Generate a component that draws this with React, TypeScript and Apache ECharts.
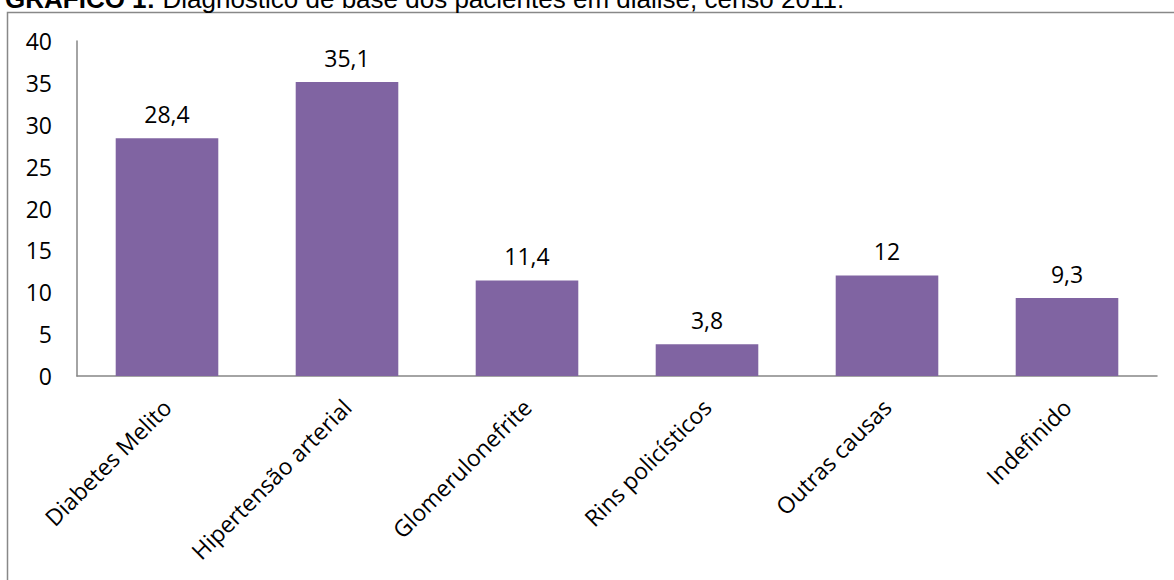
import React, { useEffect, useRef } from "react";
import * as echarts from "echarts";

const categories = [
  "Diabetes Melito",
  "Hipertensão arterial",
  "Glomerulonefrite",
  "Rins policísticos",
  "Outras causas",
  "Indefinido",
];
const values = [28.4, 35.1, 11.4, 3.8, 12, 9.3];
const titleBold = "GRÁFICO 1:";
const titleRest = " Diagnóstico de base dos pacientes em diálise, censo 2011.";

export default function App() {
  const ref = useRef<HTMLDivElement>(null);
  useEffect(() => {
    document.body.style.margin = "0";
    const chart = echarts.init(ref.current!, null, { renderer: "svg" });
    chart.setOption({
      animation: false,
      backgroundColor: "#ffffff",
      grid: { left: 77, right: 17, top: 41, bottom: 204, containLabel: false },
      graphic: [
        {
          type: "rect",
          shape: { x: 7.5, y: 12.5, width: 1200, height: 600 },
          style: { fill: "none", stroke: "#888888", lineWidth: 1.5 },
          z: 0,
        },
        {
          type: "text",
          x: 5,
          y: 12,
          style: {
            text: `{b|${titleBold}}{n|${titleRest}}`,
            verticalAlign: "bottom",
            rich: {
              b: { fontFamily: "Liberation Sans, Arial", fontWeight: "bold", fontSize: 26, fill: "#000" },
              n: { fontFamily: "Liberation Sans, Arial", fontSize: 26, fill: "#000" },
            },
          },
        },
      ],
      xAxis: {
        type: "category",
        data: categories,
        axisLine: { show: true, lineStyle: { color: "#868686", width: 1.5 } },
        axisTick: { show: false },
        axisLabel: {
          interval: 0,
          rotate: 45,
          margin: 27,
          fontFamily: "Open Sans",
          fontSize: 23,
          color: "#000",
        },
      },
      yAxis: {
        type: "value",
        min: 0,
        max: 40,
        interval: 5,
        axisLine: { show: true, lineStyle: { color: "#868686", width: 1.5 } },
        axisTick: { show: false },
        splitLine: { show: false },
        axisLabel: {
          margin: 25,
          fontFamily: "Open Sans",
          fontSize: 23,
          color: "#000",
        },
      },
      series: [
        {
          type: "bar",
          data: values,
          barCategoryGap: "43%",
          itemStyle: { color: "#8064A2" },
          label: {
            show: true,
            position: "top",
            distance: 13,
            fontFamily: "Open Sans",
            fontSize: 23,
            color: "#000",
            formatter: (p: any) => String(p.value).replace(".", ","),
          },
        },
      ],
    });
    return () => chart.dispose();
  }, []);
  return <div ref={ref} style={{ width: 1174, height: 580 }} />;
}
